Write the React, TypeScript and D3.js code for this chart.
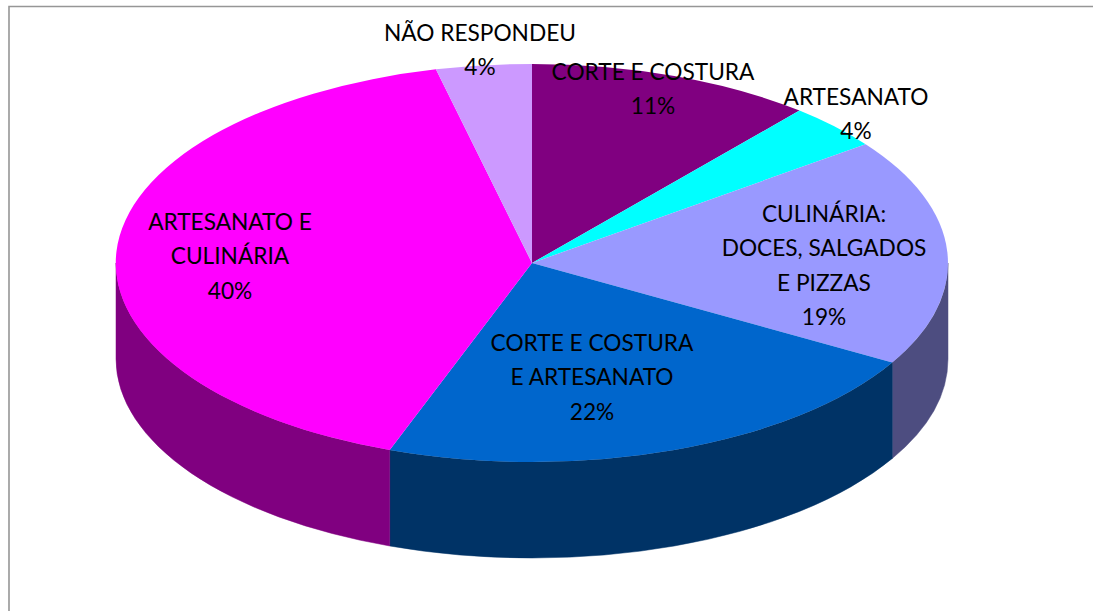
import React from "react";
import * as d3 from "d3";

const categories = ["CORTE E COSTURA", "ARTESANATO", "CULINÁRIA: DOCES, SALGADOS E PIZZAS", "CORTE E COSTURA E ARTESANATO", "ARTESANATO E CULINÁRIA", "NÃO RESPONDEU"];
const values = [3, 1, 5, 6, 11, 1];
const percentLabels = ["11%", "4%", "19%", "22%", "40%", "4%"];
const labelLines = [
  ["CORTE E COSTURA"],
  ["ARTESANATO"],
  ["CULINÁRIA:", "DOCES, SALGADOS", "E PIZZAS"],
  ["CORTE E COSTURA", "E ARTESANATO"],
  ["ARTESANATO E", "CULINÁRIA"],
  ["NÃO RESPONDEU"],
];
const topColors = ["#800080", "#00ffff", "#9999ff", "#0066cc", "#ff00ff", "#cc99ff"];
const wallColors = ["#400040", "#008080", "#4d4d80", "#003366", "#800080", "#664d80"];
const labelAnchors: [number, number][] = [[653, 80], [856, 105], [824, 222], [592, 351], [230, 230], [480, 41]];

const W = 1093, H = 611;
const cx = 532, cy = 263, rx = 416, ry = 199, depth = 96;
const lineGap = 34.3;

const pt = (a: number, dy = 0) => [cx + rx * Math.sin(a), cy - ry * Math.cos(a) + dy];

function wallPath(a0: number, a1: number) {
  const s = Math.max(a0, Math.PI / 2), e = Math.min(a1, Math.PI * 1.5);
  if (e <= s) return null;
  const [x0, y0] = pt(s), [x1, y1] = pt(e);
  return `M${x0},${y0}A${rx},${ry} 0 0 1 ${x1},${y1}L${x1},${y1 + depth}A${rx},${ry} 0 0 0 ${x0},${y0 + depth}Z`;
}

export default function App() {
  const pie = d3.pie<number>().sort(null)(values);
  const arc = d3.arc<d3.PieArcDatum<number>>().innerRadius(0).outerRadius(1);
  return (
    <svg width={W} height={H} style={{ position: "absolute", left: 0, top: 0, display: "block" }} fontFamily="Lato, Carlito, sans-serif">
      <rect width={W} height={H} fill="#ffffff" />
      <path d={`M9,${H}V6.5H${W}`} fill="none" stroke="#969696" strokeWidth={1.6} />
      {pie.map((d, i) => {
        const p = wallPath(d.startAngle, d.endAngle);
        return p ? <path key={i} d={p} fill={wallColors[i]} stroke={wallColors[i]} strokeWidth={0.5} /> : null;
      })}
      <g transform={`translate(${cx},${cy}) scale(${rx},${ry})`}>
        {pie.map((d, i) => (
          <path key={i} d={arc(d) as string} fill={topColors[i]} />
        ))}
      </g>
      {categories.map((c, i) => {
        const [x, y] = labelAnchors[i];
        const lines = [...labelLines[i], percentLabels[i]];
        return (
          <text key={c} x={x} y={y} textAnchor="middle" fontSize={22.7} fill="#000000">
            {lines.map((l, j) => (
              <tspan key={j} x={x} y={y + j * lineGap}>{l}</tspan>
            ))}
          </text>
        );
      })}
    </svg>
  );
}
